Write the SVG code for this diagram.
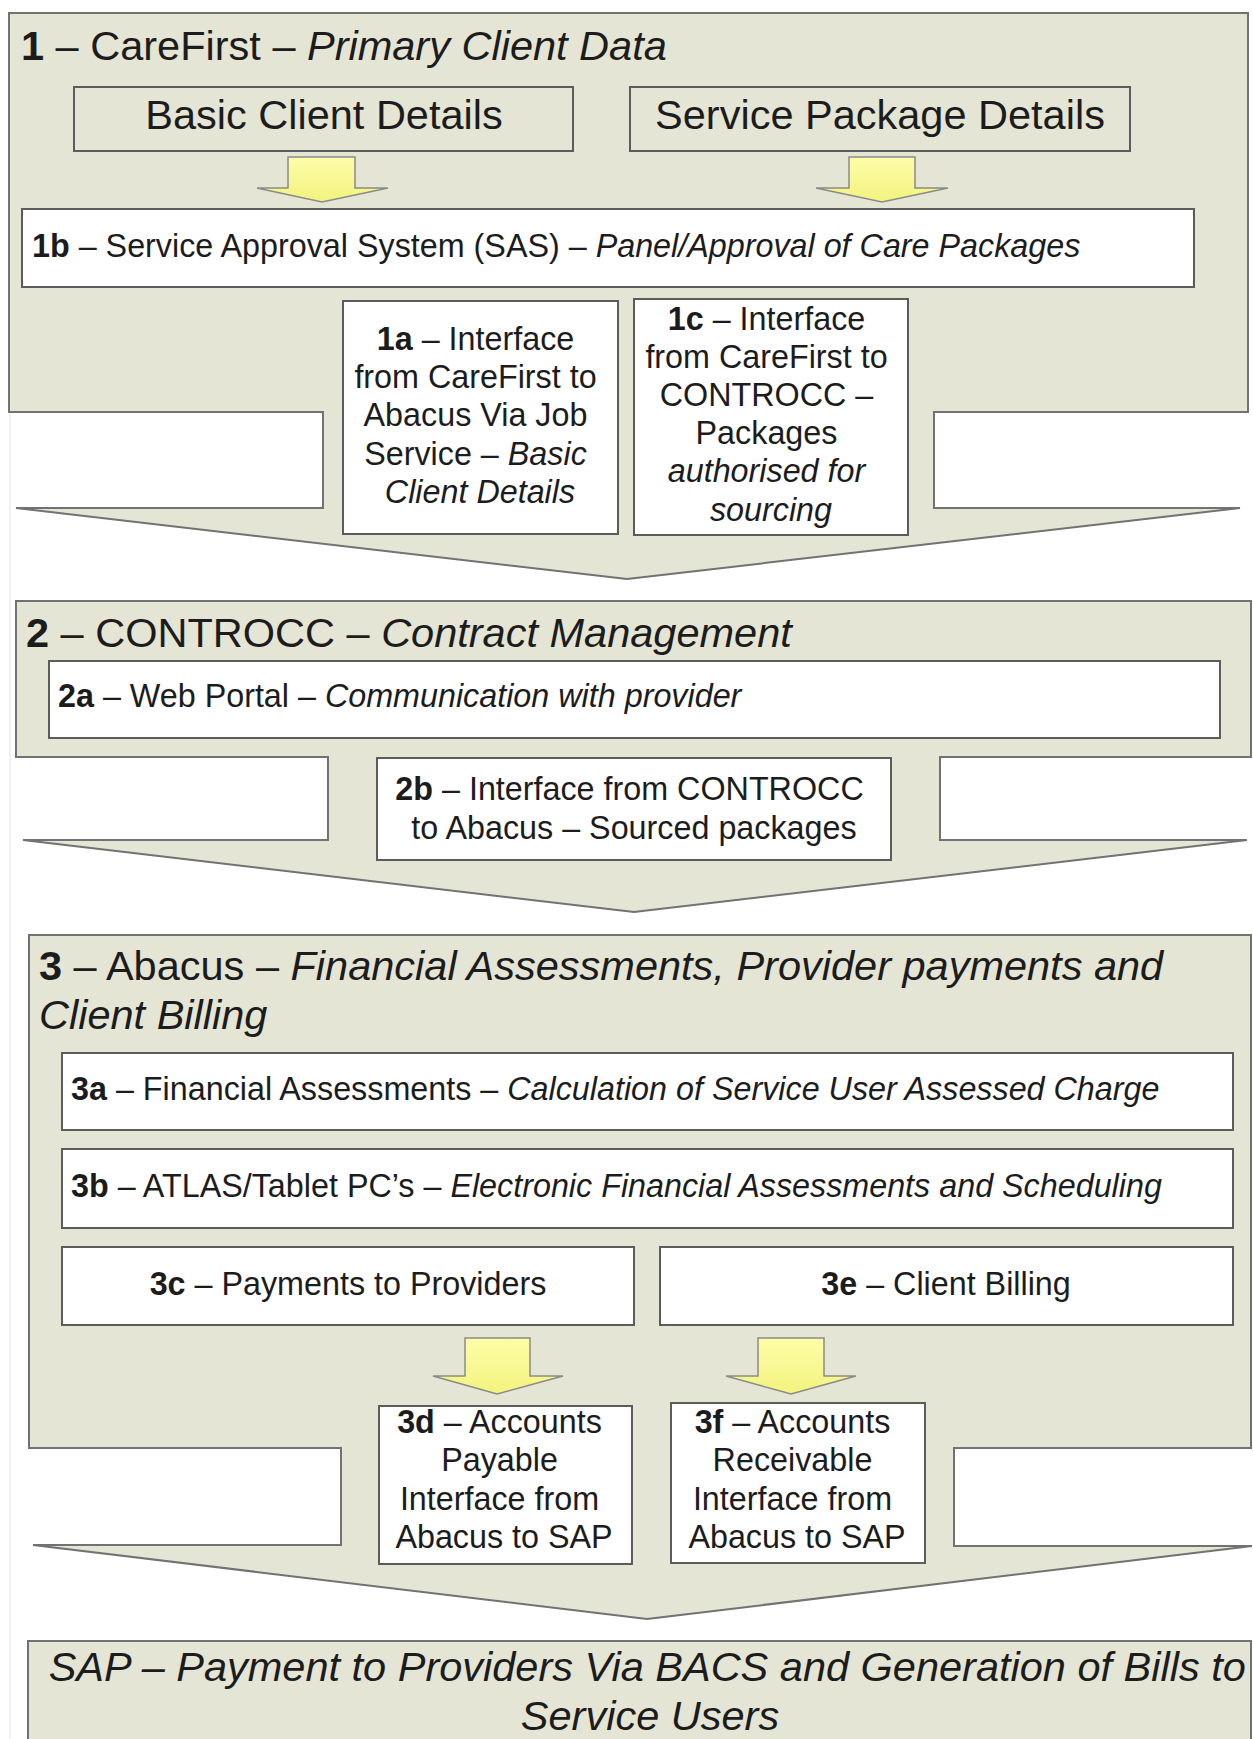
<svg xmlns="http://www.w3.org/2000/svg" width="1253" height="1739" viewBox="0 0 1253 1739">
  <defs>
    <linearGradient id="yellowFill" x1="0" y1="0" x2="0" y2="1">
      <stop offset="0" stop-color="#FDFDA8"/>
      <stop offset="1" stop-color="#F3F37F"/>
    </linearGradient>
    <style>
      .stage { fill: #E5E5D5; stroke: #727272; stroke-width: 2; stroke-linejoin: miter; }
      .box { fill: #FFFFFF; stroke: #5C5C5C; stroke-width: 2; }
      .plain { fill: #E5E5D5; stroke: #5C5C5C; stroke-width: 2; }
      .flow { fill: url(#yellowFill); stroke: #8A8A8A; stroke-width: 1.5; stroke-linejoin: miter; }
      text { font-family: "Liberation Sans", Arial, Helvetica, sans-serif; fill: #1C1C1C; }
      .big { font-size: 41.5px; }
      .std { font-size: 32.3px; }
      .mid { text-anchor: middle; }
      .b { font-weight: bold; }
      .i { font-style: italic; }
    </style>
  </defs>

  <rect width="1253" height="1739" fill="#FFFFFF"/>
  <!-- faint page edge -->
  <line x1="10" y1="414" x2="10" y2="1739" stroke="#EDEDED" stroke-width="1.5"/>

  <!-- Stage 1: CareFirst -->
  <g id="carefirst">
    <path class="stage" d="M9,13 H1248 V412 H934 V508 H1240 L627,579 L16,508 H323 V412 H9 Z"/>
    <text class="big" x="21" y="60"><tspan class="b">1</tspan> – CareFirst – <tspan class="i">Primary Client Data</tspan></text>
  </g>
  <g id="basic-client-details">
    <rect class="plain" x="74" y="87" width="499" height="64"/>
    <text class="big mid" x="324" y="129">Basic Client Details</text>
  </g>
  <g id="service-package-details">
    <rect class="plain" x="630" y="87" width="500" height="64"/>
    <text class="big mid" x="880" y="129">Service Package Details</text>
  </g>
  <g id="sas-1b">
    <rect class="box" x="22" y="209" width="1172" height="78"/>
    <text class="std" x="32" y="257"><tspan class="b">1b</tspan> – Service Approval System (SAS) – <tspan class="i">Panel/Approval of Care Packages</tspan></text>
  </g>
  <g id="interface-1a">
    <rect class="box" x="343" y="301" width="275" height="233"/>
    <text class="std mid" y="350">
      <tspan x="480"><tspan class="b">1a</tspan> – Interface</tspan>
      <tspan x="480" dy="38.2">from CareFirst to</tspan>
      <tspan x="480" dy="38.2">Abacus Via Job</tspan>
      <tspan x="480" dy="38.2">Service – <tspan class="i">Basic</tspan></tspan>
      <tspan x="480" dy="38.2" class="i">Client Details</tspan>
    </text>
  </g>
  <g id="interface-1c">
    <rect class="box" x="634" y="299" width="274" height="236"/>
    <text class="std mid" y="330">
      <tspan x="771"><tspan class="b">1c</tspan> – Interface</tspan>
      <tspan x="771" dy="38.1">from CareFirst to</tspan>
      <tspan x="771" dy="38.1">CONTROCC –</tspan>
      <tspan x="771" dy="38.1">Packages</tspan>
      <tspan x="771" dy="38.1" class="i">authorised for</tspan>
      <tspan x="771" dy="38.1" class="i">sourcing</tspan>
    </text>
  </g>

  <!-- Stage 2: CONTROCC -->
  <g id="controcc">
    <path class="stage" d="M16,601 H1251 V757 H940 V840 H1247 L634,912 L23,840 H328 V757 H16 Z"/>
    <text class="big" x="26" y="647"><tspan class="b">2</tspan> – CONTROCC – <tspan class="i">Contract Management</tspan></text>
  </g>
  <g id="web-portal-2a">
    <rect class="box" x="49" y="661" width="1171" height="77"/>
    <text class="std" x="58" y="707"><tspan class="b">2a</tspan> – Web Portal – <tspan class="i">Communication with provider</tspan></text>
  </g>
  <g id="interface-2b">
    <rect class="box" x="377" y="758" width="514" height="102"/>
    <text class="std mid" y="800">
      <tspan x="634"><tspan class="b">2b</tspan> – Interface from CONTROCC</tspan>
      <tspan x="634" dy="38.5">to Abacus – Sourced packages</tspan>
    </text>
  </g>

  <!-- Stage 3: Abacus -->
  <g id="abacus">
    <path class="stage" d="M29,935 H1251 V1448 H954 V1546 H1252 L647,1619 L33,1545 H341 V1448 H29 Z"/>
    <text class="big" x="39" y="980"><tspan class="b">3</tspan> – Abacus – <tspan class="i">Financial Assessments, Provider payments and</tspan></text>
    <text class="big i" x="39" y="1029">Client Billing</text>
  </g>
  <g id="assessments-3a">
    <rect class="box" x="62" y="1053" width="1171" height="77"/>
    <text class="std" x="71" y="1100"><tspan class="b">3a</tspan> – Financial Assessments – <tspan class="i">Calculation of Service User Assessed Charge</tspan></text>
  </g>
  <g id="atlas-3b">
    <rect class="box" x="62" y="1149" width="1171" height="79"/>
    <text class="std" x="71" y="1197"><tspan class="b">3b</tspan> – ATLAS/Tablet PC’s – <tspan class="i">Electronic Financial Assessments and Scheduling</tspan></text>
  </g>
  <g id="payments-3c">
    <rect class="box" x="62" y="1247" width="572" height="78"/>
    <text class="std mid" x="348" y="1295"><tspan class="b">3c</tspan> – Payments to Providers</text>
  </g>
  <g id="billing-3e">
    <rect class="box" x="660" y="1247" width="573" height="78"/>
    <text class="std mid" x="946" y="1295"><tspan class="b">3e</tspan> – Client Billing</text>
  </g>
  <g id="payable-3d">
    <rect class="box" x="379" y="1406" width="253" height="158"/>
    <text class="std mid" y="1433">
      <tspan x="504"><tspan class="b">3d</tspan> – Accounts</tspan>
      <tspan x="504" dy="38.4">Payable</tspan>
      <tspan x="504" dy="38.4">Interface from</tspan>
      <tspan x="504" dy="38.4">Abacus to SAP</tspan>
    </text>
  </g>
  <g id="receivable-3f">
    <rect class="box" x="671" y="1403" width="254" height="160"/>
    <text class="std mid" y="1433">
      <tspan x="797"><tspan class="b">3f</tspan> – Accounts</tspan>
      <tspan x="797" dy="38.4">Receivable</tspan>
      <tspan x="797" dy="38.4">Interface from</tspan>
      <tspan x="797" dy="38.4">Abacus to SAP</tspan>
    </text>
  </g>

  <!-- Stage 4: SAP -->
  <g id="sap">
    <rect class="stage" x="28" y="1641" width="1223" height="110"/>
    <text class="big mid i" y="1681">
      <tspan x="653">SAP – Payment to Providers Via BACS and Generation of Bills to</tspan>
      <tspan x="650" dy="49">Service Users</tspan>
    </text>
  </g>

  <!-- Block arrows between boxes -->
  <g id="connectors">
    <path class="flow" d="M288,157 H355 V188 H388 L322,202 L257,188 H288 Z"/>
    <path class="flow" d="M849,157 H915 V188 H948 L882,202 L816,188 H849 Z"/>
    <path class="flow" d="M465,1338 H530 V1376 H563 L497,1394 L433,1376 H465 Z"/>
    <path class="flow" d="M758,1338 H824 V1376 H856 L791,1394 L726,1376 H758 Z"/>
  </g>
</svg>
